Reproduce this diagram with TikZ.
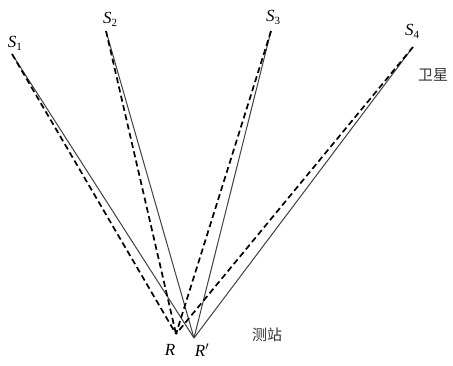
\documentclass[tikz,border=0pt]{standalone}
\usepackage{fontspec}
\setmainfont{Liberation Serif}
\newfontfamily\cjk{Noto Sans CJK SC}
\newcommand{\satl}[1]{\textit{S}\raisebox{-3pt}{\fontsize{11}{11}\selectfont\upshape #1}}
\begin{document}
\begin{tikzpicture}[x=1pt,y=-1pt,
  solidray/.style={draw=black!75, line width=1pt},
  dashray/.style={draw=black, line width=1.7pt, dash pattern=on 6pt off 3.5pt},
  lbl/.style={font=\fontsize{17}{17}\selectfont\itshape, inner sep=0pt},
  cn/.style={font=\fontsize{15}{15}\selectfont\cjk, inner sep=0pt, text=black!80}]
\useasboundingbox (0,0) rectangle (453,366);
\coordinate (S1) at (12,54);
\coordinate (S2) at (106,31);
\coordinate (S3) at (271,31);
\coordinate (S4) at (413,47);
\coordinate (R) at (176,334);
\coordinate (Rp) at (194,338);
\foreach \s in {S1,S2,S3,S4}{
  \draw[solidray] (\s) -- (Rp);
  \draw[dashray] (\s) -- (R);
}
\node[lbl] (l1) at (15,43) {\satl{1}};
\node[lbl] (l2) at (110,19) {\satl{2}};
\node[lbl] (l3) at (273,17) {\satl{3}};
\node[lbl] (l4) at (412,31) {\satl{4}};
\node[lbl] (lr) at (170,350) {R};
\node[lbl] (lrp) at (202,350) {R$'$};
\node[cn] (sat) at (433,75) {卫星};
\node[cn] (st) at (267,335) {测站};
\end{tikzpicture}
\end{document}
